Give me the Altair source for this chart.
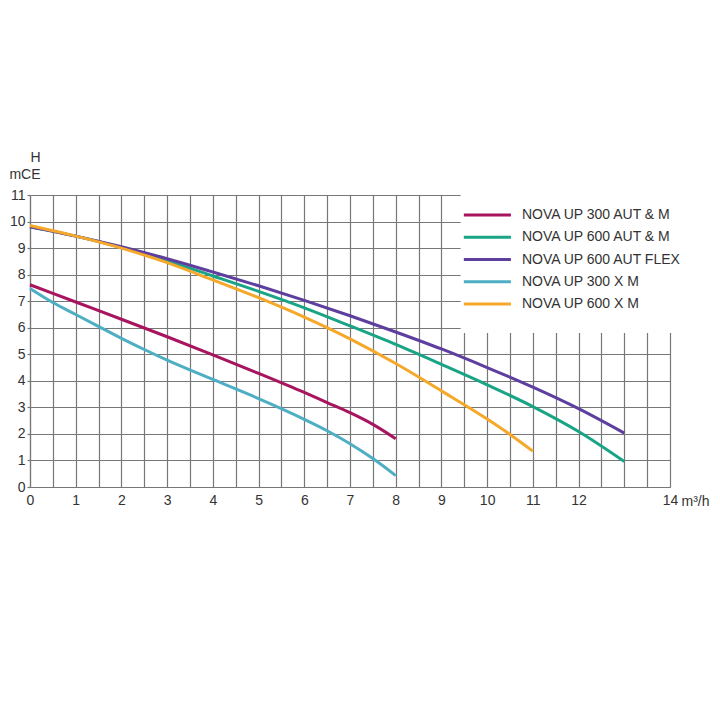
import altair as alt
import pandas as pd

# ---- data ----
names = ["NOVA UP 300 AUT & M", "NOVA UP 600 AUT & M", "NOVA UP 600 AUT FLEX",
         "NOVA UP 300 X M", "NOVA UP 600 X M"]
colors = ["#A8155F", "#1AA486", "#5E3E9F", "#4EAFC4", "#F5A82A"]

q_300_aut = [0, 1, 2, 3, 4, 5, 6, 6.5, 7, 7.5, 8]
h_300_aut = [7.62, 6.97, 6.32, 5.66, 4.98, 4.28, 3.56, 3.18, 2.8, 2.36, 1.82]

q_600_aut = [0, 1, 2, 3, 4, 5, 6, 7, 8, 9, 10, 11, 12, 13]
h_600_aut = [9.8, 9.45, 9.02, 8.52, 7.95, 7.37, 6.75, 6.07, 5.37, 4.62, 3.85, 3.03, 2.09, 0.96]

q_600_flex = [0, 1, 2, 3, 4, 5, 6, 7, 8, 9, 10, 11, 12, 13]
h_600_flex = [9.8, 9.45, 9.05, 8.6, 8.1, 7.58, 7.03, 6.45, 5.84, 5.2, 4.5, 3.76, 2.95, 2.03]

q_300_xm = [0, 0.5, 1, 1.5, 2, 2.5, 3, 4, 5, 6, 6.5, 7, 7.5, 8]
h_300_xm = [7.48, 6.95, 6.5, 6.05, 5.6, 5.18, 4.78, 4.05, 3.33, 2.55, 2.12, 1.63, 1.07, 0.43]

q_600_xm = [0, 1, 2, 3, 4, 5, 6, 7, 8, 9, 10, 10.5, 11]
h_600_xm = [9.85, 9.45, 9.0, 8.45, 7.8, 7.13, 6.4, 5.58, 4.65, 3.62, 2.56, 1.98, 1.35]

x_ticks = [i * 0.5 for i in range(29)]
y_ticks = list(range(12))

series = [(q_300_aut, h_300_aut), (q_600_aut, h_600_aut), (q_600_flex, h_600_flex),
          (q_300_xm, h_300_xm), (q_600_xm, h_600_xm)]

rows = []
for name, (qs, hs) in zip(names, series):
    for q, h in zip(qs, hs):
        rows.append({"serie": name, "q": q, "h": h})
df = pd.DataFrame(rows)

FONT = "Liberation Sans, Arial, sans-serif"
GRID = "#777777"
TXT = "#333333"

xs = alt.Scale(domain=[0, 14], nice=False, zero=False)
ys = alt.Scale(domain=[0, 11], nice=False, zero=False)
color_scale = alt.Scale(domain=names, range=colors)

# legend layout (in plot units)
leg_x0, leg_x1, leg_tx = 9.49, 10.52, 10.76
leg_top, leg_step = 10.25, 0.84
mask = pd.DataFrame([{"x": 9.42, "x2": 14.3, "y": 5.8, "y2": 11.4}])
leg = pd.DataFrame([{"serie": n, "x": leg_x0, "x2": leg_x1, "tx": leg_tx,
                     "y": leg_top - i * leg_step} for i, n in enumerate(names)])

x_axis = alt.Axis(values=x_ticks, grid=True, gridColor=GRID, gridWidth=1.2,
                  domainColor=GRID, domainWidth=1.2, ticks=False,
                  labelExpr="datum.value % 1 != 0 || datum.value == 13 ? '' : format(datum.value, 'd')",
                  labelOverlap=False,
                  labelFont=FONT, labelFontSize=14, labelColor=TXT, labelPadding=6,
                  labelFlush=False,
                  title="m³/h", titleFont=FONT, titleFontSize=14, titleFontWeight="normal",
                  titleColor=TXT, titleX=651, titleY=14, titleAlign="left",
                  titleBaseline="middle", titleAnchor="start")
y_axis = alt.Axis(values=y_ticks, grid=True, gridColor=GRID, gridWidth=1.2,
                  domainColor=GRID, domainWidth=1.2, ticks=True, tickSize=3,
                  tickColor=GRID, tickWidth=1.2, labelOverlap=False,
                  labelExpr="format(datum.value, 'd')",
                  labelFont=FONT, labelFontSize=14, labelColor=TXT, labelPadding=2,
                  labelFlush=False,
                  title=["H", "mCE"], titleFont=FONT, titleFontSize=14,
                  titleFontWeight="normal", titleColor=TXT, titleAngle=0,
                  titleAlign="right", titleBaseline="top", titleX=10, titleY=-45,
                  titleLineHeight=17)


def X(field):
    return alt.X(field, type="quantitative", scale=xs, axis=x_axis)


def Y(field):
    return alt.Y(field, type="quantitative", scale=ys, axis=y_axis)


lines = alt.Chart(df).mark_line(strokeWidth=3, interpolate="monotone").encode(
    x=X("q"), y=Y("h"),
    color=alt.Color("serie:N", scale=color_scale, legend=None),
    detail="serie:N",
)

mask_layer = alt.Chart(mask).mark_rect(color="white", clip=False).encode(
    x=X("x"), x2="x2:Q",
    y=Y("y"), y2="y2:Q",
)

leg_lines = alt.Chart(leg).mark_rule(strokeWidth=3).encode(
    x=X("x"), x2="x2:Q",
    y=Y("y"),
    color=alt.Color("serie:N", scale=color_scale, legend=None),
)

leg_text = alt.Chart(leg).mark_text(align="left", baseline="middle", font=FONT,
                                    fontSize=14, color=TXT).encode(
    x=X("tx"),
    y=Y("y"),
    text="serie:N",
)

chart = alt.layer(lines, mask_layer, leg_lines, leg_text).properties(
    width=640, height=292,
    autosize=alt.AutoSizeParams(type="none"),
    padding={"left": 30, "top": 195, "right": 50, "bottom": 233},
).configure_view(stroke="transparent").configure(background="white")

chart.save("out.html", embed_options={"renderer": "svg", "actions": False})
